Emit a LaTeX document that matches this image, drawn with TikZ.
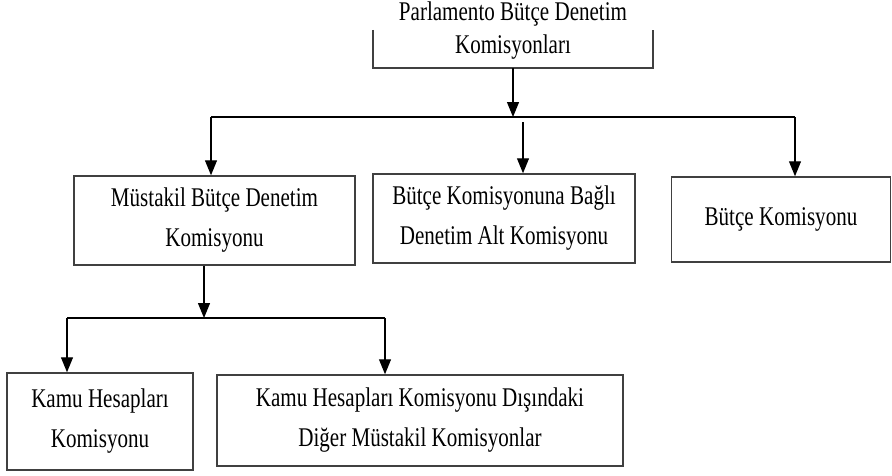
\documentclass[tikz,border=0pt]{standalone}
\usepackage{fontspec}
\setmainfont[FakeStretch=0.78]{Liberation Serif}
\usetikzlibrary{arrows.meta}

\tikzset{
  yazi/.style={align=center, inner sep=0pt, font=\fontsize{27}{40}\selectfont},
  kutu/.style={yazi, draw=black!75, line width=1.5pt},
  ok/.style={-{Triangle[length=15pt,width=12pt]}, line width=1.2pt},
  hat/.style={line width=1.2pt}
}

\begin{document}
\begin{tikzpicture}[x=1pt, y=-1pt]
  \useasboundingbox (0,0) rectangle (892,475);

  % ust kurul
  \node[minimum width=280pt, minimum height=38pt, inner sep=0pt] (parl) at (513,49) {};
  \draw[draw=black!75, line width=1.5pt] (parl.north west) -- (parl.south west)
      -- (parl.south east) -- (parl.north east);
  \node[yazi, font=\fontsize{27}{33}\selectfont] (parltxt) at (513,31)
      {Parlamento Bütçe Denetim\\Komisyonları};

  % alt komisyonlar
  \node[kutu, minimum width=281pt, minimum height=89pt] (mustakil) at (214.5,220.5)
      {Müstakil Bütçe Denetim\\Komisyonu};
  \node[kutu, minimum width=262pt, minimum height=89pt] (bagli) at (504,218.5)
      {Bütçe Komisyonuna Bağlı\\Denetim Alt Komisyonu};
  \node[kutu, minimum width=219pt, minimum height=85pt] (butce) at (781,219.5)
      {Bütçe Komisyonu};
  \node[kutu, minimum width=186pt, minimum height=97pt] (kamu) at (100,421.5)
      {Kamu Hesapları\\Komisyonu};
  \node[kutu, minimum width=406pt, minimum height=91pt] (diger) at (420,420.5)
      {Kamu Hesapları Komisyonu Dışındaki\\Diğer Müstakil Komisyonlar};

  \coordinate (ja) at (211,117);
  \coordinate (jb) at (795,117);
  \coordinate (jm) at (523,122);
  \coordinate (ka) at (67,318);
  \coordinate (kb) at (385,318);
  \coordinate (km) at (204,318);

  \draw[ok] (parl.south) -- (parl.south |- ja);
  \draw[hat] (ja) -- (jb);
  \draw[ok] (ja) -- (ja |- mustakil.north);
  \draw[ok] (jm) -- (jm |- bagli.north);
  \draw[ok] (jb) -- (jb |- butce.north);

  \draw[ok] (km |- mustakil.south) -- (km);
  \draw[hat] (ka) -- (kb);
  \draw[ok] (ka) -- (ka |- kamu.north);
  \draw[ok] (kb) -- (kb |- diger.north);
\end{tikzpicture}
\end{document}
